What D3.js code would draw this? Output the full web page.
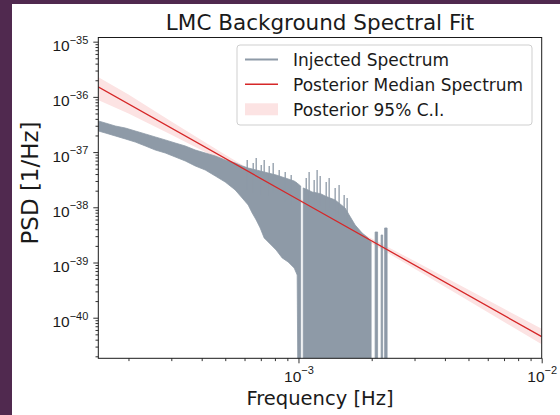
<!DOCTYPE html>
<html><head><meta charset="utf-8">
<script src="https://cdn.jsdelivr.net/npm/d3@7"></script>
<style>html,body{margin:0;padding:0;background:#50294f;} svg{display:block;font-family:"DejaVu Sans",sans-serif;}</style>
</head><body><svg id="c" width="560" height="415"></svg>
<script>
// ---- data ----
const F = 1e-42; // below the visible floor: periodogram dips off the axis
const injFreq = [1.503e-4,1.605e-4,1.765e-4,1.941e-4,2.134e-4,2.346e-4,2.578e-4,2.834e-4,3.115e-4,3.424e-4,
  3.764e-4,4.137e-4,4.548e-4,4.997e-4,5.494e-4,5.870e-4,6.212e-4,6.452e-4,6.702e-4,6.960e-4,
  7.228e-4,7.509e-4,7.797e-4,8.096e-4,8.570e-4,9.072e-4,9.601e-4,9.878e-4,9.97e-4,1.021e-3,
  1.031e-3,1.046e-3,1.096e-3,1.138e-3,1.193e-3,1.240e-3,1.287e-3,1.350e-3,1.415e-3,1.483e-3,
  1.555e-3,1.616e-3,1.710e-3,1.827e-3,1.934e-3,1.989e-3,2.008e-3,2.066e-3,2.115e-3,2.135e-3,
  2.187e-3,2.218e-3,2.239e-3,2.261e-3,2.314e-3];
const injHigh = [3.66e-37,3.37e-37,2.97e-37,2.73e-37,2.41e-37,2.13e-37,1.88e-37,1.66e-37,1.46e-37,1.29e-37,
  1.09e-37,9.63e-38,8.50e-38,7.19e-38,6.35e-38,5.60e-38,5.15e-38,4.94e-38,4.74e-38,4.55e-38,
  4.36e-38,4.18e-38,4.01e-38,3.85e-38,3.54e-38,3.26e-38,2.99e-38,2.75e-38,2.64e-38,2.43e-38,
  null,2.24e-38,2.06e-38,1.89e-38,1.82e-38,1.74e-38,1.60e-38,1.47e-38,1.36e-38,1.15e-38,
  9.71e-39,7.25e-39,4.78e-39,3.42e-39,2.78e-39,2.35e-39,null,3.57e-39,3.57e-39,null,
  3.15e-39,3.15e-39,null,4.22e-39,4.22e-39];
const injLow = [2.41e-37,2.22e-37,1.96e-37,1.73e-37,1.52e-37,1.29e-37,1.09e-37,9.63e-38,8.15e-38,6.90e-38,
  5.60e-38,4.74e-38,3.69e-38,2.87e-38,2.06e-38,1.47e-38,1.10e-38,7.88e-39,5.89e-39,4.22e-39,
  2.78e-39,2.35e-39,1.99e-39,1.68e-39,1.21e-39,1.02e-39,7.95e-40,5.94e-40,F,F,
  null,F,F,F,F,F,F,F,F,F,
  F,F,F,F,F,F,null,F,F,null,
  F,F,null,F,F];
// tallest individual periodogram spikes above the bulk
const spikeFreq = [6.155e-4,6.514e-4,6.702e-4,7.029e-4,7.228e-4,7.580e-4,7.870e-4,8.331e-4,8.819e-4,9.333e-4,
  1.076e-3,1.106e-3,1.160e-3,1.193e-3,1.228e-3,1.300e-3,1.337e-3,1.415e-3,1.469e-3,1.541e-3,1.585e-3];
const spikeTop  = [7.19e-38,6.35e-38,7.82e-38,5.84e-38,7.19e-38,5.60e-38,6.35e-38,4.74e-38,4.36e-38,3.85e-38,
  3.40e-38,4.36e-38,3.12e-38,4.74e-38,3.69e-38,2.87e-38,3.40e-38,2.24e-38,2.54e-38,1.67e-38,1.47e-38];
const medFreq = [1.5e-4, 1e-3, 1e-2];
const medPSD  = [1.52e-36, 1.37e-38, 4.55e-41];
const ciFreq = [1.5e-4, 2e-4, 3e-4, 5e-4, 8e-4, 1.2e-3, 2e-3, 3e-3, 5e-3, 1e-2];
const ciHigh = [2.30e-36, 1.10e-36, 3.59e-37, 8.99e-38, 2.62e-38, 9.38e-39, 2.73e-39, 1.06e-39, 3.20e-40, 6.28e-41];
const ciLow  = [8.79e-37, 5.02e-37, 2.07e-37, 6.52e-38, 2.18e-38, 8.17e-39, 2.22e-39, 7.67e-40, 2.02e-40, 3.30e-41];
const xDomain = [1.503e-4, 1e-2];
const yDomain = [1.84e-41, 1.19e-35];
const legendLabels = ["Injected Spectrum", "Posterior Median Spectrum", "Posterior 95% C.I."];
const titleText = "LMC Background Spectral Fit";
const xLabel = "Frequency [Hz]";
const yLabel = "PSD [1/Hz]";

// ---- styles ----
const GRAY = "#8e9aa7", RED = "#d62728", PINK = "#fce3e3", INK = "#1a1a1a";

const svg = d3.select("#c");
svg.append("rect").attr("x", 12).attr("y", 4).attr("width", 548).attr("height", 411).attr("fill", "#fff");

const L = 98.3, R = 541.7, T = 37.5, B = 358.3;
const x = d3.scaleLog().domain(xDomain).range([L, R]);
const y = d3.scaleLog().domain(yDomain).range([B, T]);

svg.append("defs").append("clipPath").attr("id", "clip")
  .append("rect").attr("x", L).attr("y", T).attr("width", R - L).attr("height", B - T);
const plot = svg.append("g").attr("clip-path", "url(#clip)");

// CI band
const ci = ciFreq.map((f, i) => ({f, lo: ciLow[i], hi: ciHigh[i]}));
plot.append("path").datum(ci)
  .attr("d", d3.area().x(d => x(d.f)).y0(d => y(d.lo)).y1(d => y(d.hi)))
  .attr("fill", PINK);

// injected spectrum envelope
const inj = injFreq.map((f, i) => ({f, lo: injLow[i], hi: injHigh[i]}));
plot.append("path").datum(inj)
  .attr("d", d3.area().defined(d => d.hi != null).x(d => x(d.f)).y0(d => y(d.lo)).y1(d => y(d.hi)))
  .attr("fill", GRAY).attr("stroke", GRAY).attr("stroke-width", 0.8);
plot.append("g").selectAll("line").data(spikeFreq.map((f, i) => ({f, p: spikeTop[i]})))
  .join("line")
  .attr("x1", d => x(d.f)).attr("x2", d => x(d.f))
  .attr("y1", d => y(d.p)).attr("y2", d => y(d.p) + 30)
  .attr("stroke", GRAY).attr("stroke-width", 1.3);

// median
const med = medFreq.map((f, i) => ({f, p: medPSD[i]}));
plot.append("path").datum(med)
  .attr("d", d3.line().x(d => x(d.f)).y(d => y(d.p)))
  .attr("fill", "none").attr("stroke", RED).attr("stroke-width", 1.3);

// ticks
function logTicks(dom) {
  const out = [];
  const e0 = Math.floor(Math.log10(dom[0])), e1 = Math.ceil(Math.log10(dom[1]));
  for (let e = e0; e <= e1; e++) for (let k = 1; k <= 9; k++) {
    const v = +(k + "e" + e);
    if (v >= dom[0] * 0.9999 && v <= dom[1] * 1.0001) out.push(v);
  }
  return out;
}
const isMajor = v => Math.abs(Math.log10(v) - Math.round(Math.log10(v))) < 1e-6;
function supLabel(sel, v) {
  const e = Math.round(Math.log10(v));
  sel.text(null);
  sel.append("tspan").text("10");
  sel.append("tspan").attr("font-size", "11px").attr("dy", -7.5).text("\u2212" + Math.abs(e));
}

const gx = svg.append("g").attr("transform", `translate(0,${B})`)
  .call(d3.axisBottom(x).tickValues(logTicks(xDomain)).tickSizeOuter(0).tickFormat(() => ""));
gx.select(".domain").remove();
gx.selectAll(".tick line").attr("stroke", INK).attr("stroke-width", 0.9)
  .attr("y2", d => isMajor(d) ? 5 : 2.8);
gx.selectAll(".tick text").attr("fill", INK).attr("font-size", "15.5px")
  .attr("text-anchor", "middle").attr("y", 23.7).attr("dy", null)
  .each(function(d) { if (isMajor(d)) supLabel(d3.select(this), d); else d3.select(this).remove(); });

const gy = svg.append("g").attr("transform", `translate(${L},0)`)
  .call(d3.axisLeft(y).tickValues(logTicks(yDomain)).tickSizeOuter(0).tickFormat(() => ""));
gy.select(".domain").remove();
gy.selectAll(".tick line").attr("stroke", INK).attr("stroke-width", 0.9)
  .attr("x2", d => isMajor(d) ? -5 : -2.8);
gy.selectAll(".tick text").attr("fill", INK).attr("font-size", "15.5px")
  .attr("text-anchor", "end").attr("x", -10).attr("dy", "0.58em")
  .each(function(d) { if (isMajor(d)) supLabel(d3.select(this), d); else d3.select(this).remove(); });

// spines
svg.append("rect").attr("x", L).attr("y", T).attr("width", R - L).attr("height", B - T)
  .attr("fill", "none").attr("stroke", INK).attr("stroke-width", 1);

// title & labels
svg.append("text").attr("x", (L + R) / 2).attr("y", 30).attr("text-anchor", "middle")
  .attr("font-size", "21.5px").attr("fill", INK).text(titleText);
svg.append("text").attr("x", (L + R) / 2).attr("y", 405).attr("text-anchor", "middle")
  .attr("font-size", "19.5px").attr("fill", INK).text(xLabel);
svg.append("text").attr("transform", "translate(38,183) rotate(-90)").attr("text-anchor", "middle")
  .attr("font-size", "23px").attr("fill", INK).text(yLabel);

// legend
const lg = svg.append("g");
lg.append("rect").attr("x", 237).attr("y", 45).attr("width", 295).attr("height", 80).attr("rx", 3)
  .attr("fill", "#fff").attr("fill-opacity", 0.8).attr("stroke", "#cfcfcf").attr("stroke-width", 1);
const rows = [59.5, 84.3, 109.3];
lg.append("line").attr("x1", 245).attr("x2", 278).attr("y1", rows[0]).attr("y2", rows[0])
  .attr("stroke", GRAY).attr("stroke-width", 2.2);
lg.append("line").attr("x1", 245).attr("x2", 278).attr("y1", rows[1]).attr("y2", rows[1])
  .attr("stroke", RED).attr("stroke-width", 1.5);
lg.append("rect").attr("x", 245).attr("y", rows[2] - 6).attr("width", 33).attr("height", 12)
  .attr("fill", PINK);
legendLabels.forEach((t, i) => {
  lg.append("text").attr("x", 293).attr("y", rows[i] + 6.3).attr("font-size", "17px")
    .attr("fill", INK).text(t);
});
</script></body></html>
